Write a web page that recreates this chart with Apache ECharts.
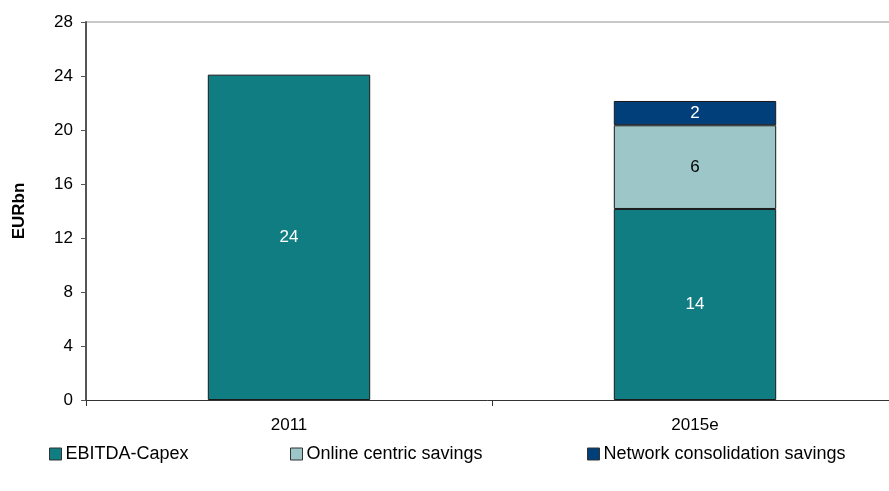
<!DOCTYPE html>
<html>
<head>
<meta charset="utf-8">
<script src="https://cdn.jsdelivr.net/npm/echarts@6/dist/echarts.min.js"></script>
<style>
  html, body { margin: 0; padding: 0; background: #fff; }
  #chart { width: 889px; height: 491px; }
</style>
</head>
<body>
<div id="chart"></div>
<script>
var categories = ['2011', '2015e'];
var ebitdaCapex = [24.1, 14.15];
var onlineSavings = [null, 6.2];
var networkSavings = [null, 1.8];
var seriesNames = ['EBITDA-Capex', 'Online centric savings', 'Network consolidation savings'];
var colors = ['#0f7d82', '#9dc6c9', '#003f7a'];

var font = 'Liberation Sans, Arial, sans-serif';
var chart = echarts.init(document.getElementById('chart'));

function barSeries(name, data, color, labelColor) {
    return {
        name: name,
        type: 'bar',
        stack: 'total',
        data: data,
        barWidth: '40%',
        itemStyle: { color: color, borderColor: '#1a1a1a', borderWidth: 1 },
        label: {
            show: true,
            position: 'inside',
            color: labelColor,
            fontFamily: font,
            fontSize: 17,
            formatter: function (p) { return p.value == null ? '' : Math.round(p.value); }
        }
    };
}

function legendAt(name, left) {
    return {
        data: [name],
        left: left,
        top: 440,
        itemWidth: 12,
        itemHeight: 12,
        itemGap: 4,
        icon: 'rect',
        itemStyle: { borderColor: '#333', borderWidth: 1 },
        textStyle: { fontFamily: font, fontSize: 18, color: '#000', padding: [0, 0, 0, -1] },
        selectedMode: false
    };
}

chart.setOption({
    animation: false,
    legend: [
        legendAt(seriesNames[0], 44),
        legendAt(seriesNames[1], 285),
        legendAt(seriesNames[2], 582)
    ],
    grid: { left: 86, top: 22, width: 812, height: 378, containLabel: false, outerBoundsMode: 'none' },
    xAxis: {
        type: 'category',
        data: categories,
        axisLine: { lineStyle: { color: '#333', width: 1 } },
        axisTick: { show: true, alignWithLabel: false, length: 6, lineStyle: { color: '#333' } },
        axisLabel: { color: '#000', fontFamily: font, fontSize: 17, margin: 17 }
    },
    yAxis: {
        type: 'value',
        min: 0,
        max: 28,
        interval: 4,
        name: 'EURbn',
        nameLocation: 'middle',
        nameGap: 58,
        nameRotate: 90,
        nameTextStyle: { fontFamily: font, fontSize: 17, fontWeight: 'bold', color: '#000' },
        axisLine: { show: true, lineStyle: { color: '#555', width: 2 } },
        axisTick: { show: true, length: 5, lineStyle: { color: '#555' } },
        axisLabel: { color: '#000', fontFamily: font, fontSize: 17, margin: 13 },
        splitLine: {
            show: true,
            lineStyle: {
                color: ['transparent', 'transparent', 'transparent', 'transparent', 'transparent', 'transparent', 'transparent', '#c8c8c8'],
                width: 2
            }
        }
    },
    series: [
        barSeries(seriesNames[0], ebitdaCapex, colors[0], '#fff'),
        barSeries(seriesNames[1], onlineSavings, colors[1], '#000'),
        barSeries(seriesNames[2], networkSavings, colors[2], '#fff')
    ]
});
</script>
</body>
</html>
